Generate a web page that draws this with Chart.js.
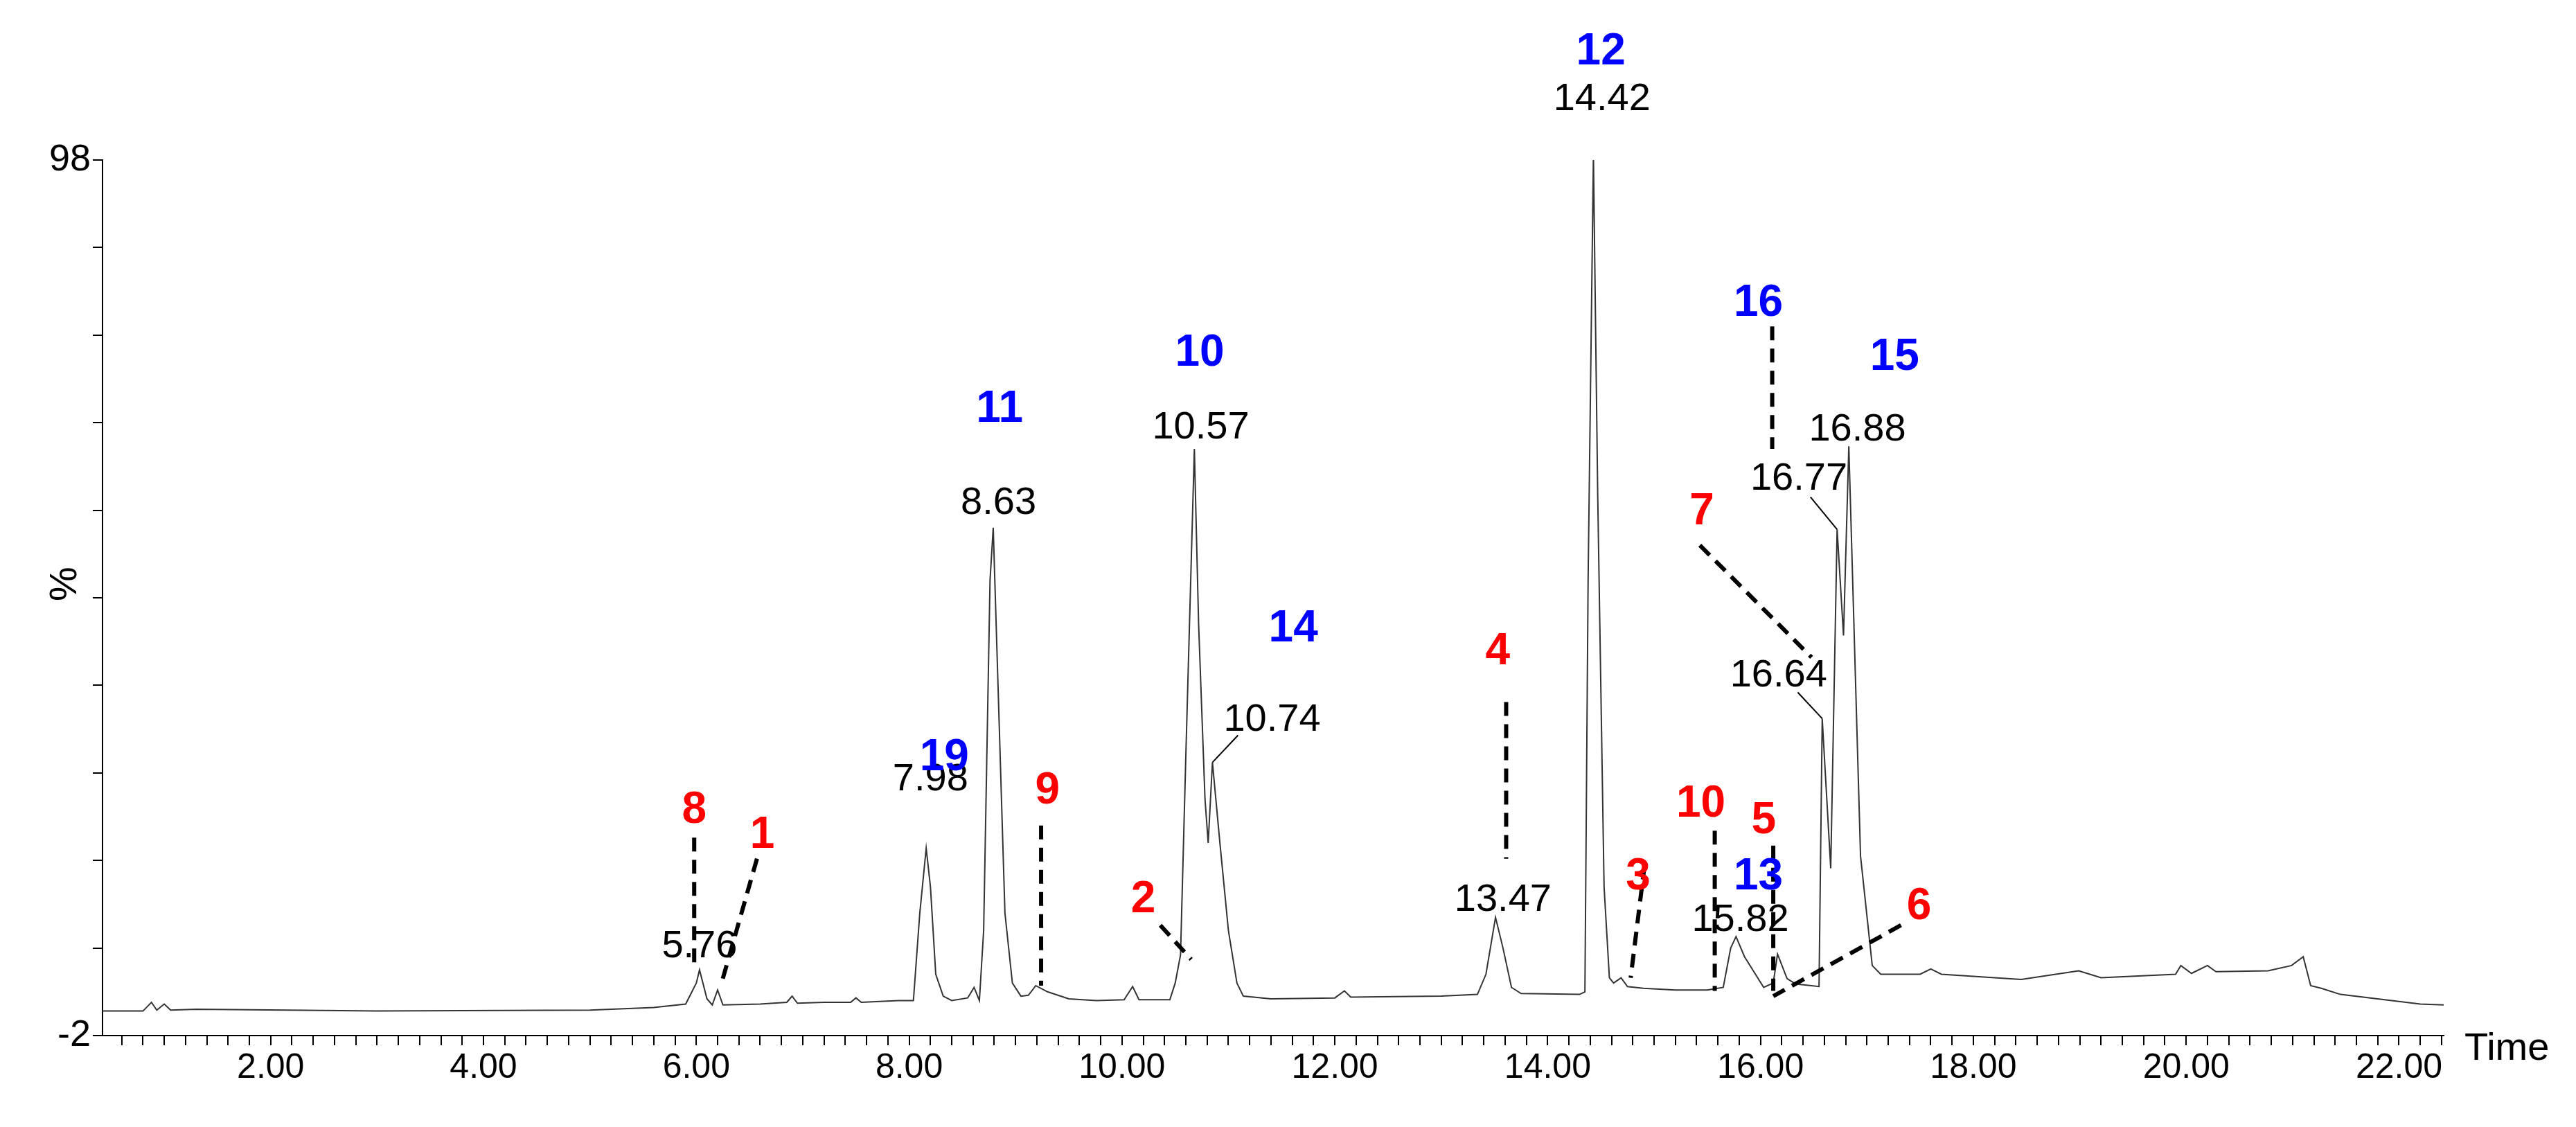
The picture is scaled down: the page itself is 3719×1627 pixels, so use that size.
<!DOCTYPE html>
<html><head><meta charset="utf-8">
<script src="https://cdn.jsdelivr.net/npm/chart.js@4/dist/chart.umd.min.js"></script>
<style>html,body{margin:0;padding:0;background:#fff}canvas{display:block}</style>
</head><body>
<canvas id="c" width="3719" height="1627" style="width:3719px;height:1627px"></canvas>
<script>
// chromatogram trace [time (min), relative intensity %]
const trace = [[0.42,0.8],[0.8,0.8],[0.88,1.8],[0.93,0.9],[1.0,1.6],[1.06,0.9],[1.3,1.0],[3,0.8],[5.0,0.9],[5.6,1.2],[5.9,1.6],[6.0,4],[6.03,5.5],[6.1,2.2],[6.15,1.5],[6.2,3.2],[6.25,1.5],[6.6,1.6],[6.85,1.8],[6.9,2.5],[6.95,1.7],[7.2,1.8],[7.45,1.8],[7.5,2.3],[7.55,1.8],[7.9,2.0],[8.04,2.0],[8.1,12],[8.16,19.4],[8.2,15],[8.25,5],[8.32,2.5],[8.4,2.0],[8.55,2.3],[8.61,3.5],[8.66,2.0],[8.7,10],[8.76,50],[8.79,56],[8.83,40],[8.9,12],[8.97,4],[9.05,2.5],[9.12,2.6],[9.19,3.7],[9.3,3.0],[9.5,2.2],[9.76,2.0],[10.02,2.1],[10.10,3.6],[10.16,2.1],[10.45,2.1],[10.5,4],[10.55,7.2],[10.6,30],[10.68,65],[10.72,45],[10.78,25],[10.81,20],[10.85,29.2],[10.92,20],[11.0,10],[11.08,4],[11.14,2.5],[11.4,2.2],[12.0,2.3],[12.09,3.1],[12.15,2.4],[13.0,2.5],[13.34,2.7],[13.42,5],[13.51,11.5],[13.58,8],[13.66,3.5],[13.75,2.8],[14.3,2.7],[14.35,3],[14.38,50],[14.43,98.5],[14.47,60],[14.53,15],[14.58,4.6],[14.62,4],[14.69,4.6],[14.75,3.6],[14.9,3.4],[15.2,3.2],[15.5,3.2],[15.65,3.5],[15.72,8],[15.77,9.3],[15.85,7],[16.03,3.5],[16.12,4],[16.16,7.3],[16.25,4.5],[16.33,3.9],[16.55,3.6],[16.58,34.2],[16.66,17.1],[16.72,55.8],[16.78,43.7],[16.83,65.3],[16.94,18.5],[17.05,6],[17.13,5.0],[17.5,5.0],[17.6,5.6],[17.7,5.0],[18.45,4.4],[18.99,5.4],[19.2,4.6],[19.9,5.0],[19.95,6.0],[20.05,5.1],[20.2,6.0],[20.28,5.3],[20.77,5.4],[20.99,6.0],[21.10,7.0],[21.17,3.7],[21.27,3.4],[21.45,2.7],[22.2,1.6],[22.42,1.5]];
// retention time labels [text, t, v]
const rtLabels = [["14.42",14.51,104.9],["8.63",8.84,58.8],["10.57",10.74,67.4],["10.74",11.41,34],["7.98",8.20,27.2],["13.47",13.58,13.5],["5.76",6.03,8.2],["15.82",15.81,11.2],["16.64",16.17,39.1],["16.77",16.36,61.6],["16.88",16.91,67.2]];
// compound numbers [text, t, v, color]
const numLabels = [["12",14.50,110.3,"blue"],["11",8.85,69.5,"blue"],["10",10.73,75.9,"blue"],["14",11.61,44.4,"blue"],["19",8.33,29.7,"blue"],["16",15.98,81.6,"blue"],["15",17.26,75.4,"blue"],["13",15.98,16.1,"blue"],["8",5.98,23.7,"red"],["1",6.62,20.8,"red"],["9",9.30,25.9,"red"],["2",10.20,13.5,"red"],["4",13.53,41.8,"red"],["3",14.85,16.1,"red"],["10",15.44,24.4,"red"],["5",16.03,22.5,"red"],["7",15.45,57.8,"red"],["6",17.49,12.7,"red"]];
// dashed leader lines [t1,v1,t2,v2]
const dashLines = [[5.98,20.6,5.98,5.9],[6.57,18.2,6.23,3.7],[9.24,22,9.24,3.7],[10.36,10.6,10.65,6.7],[13.61,36.1,13.61,18.2],[14.91,17.4,14.78,4.6],[15.57,21.4,15.57,3.1],[16.12,19.7,16.12,3.1],[17.32,10.6,16.12,2.5],[15.43,54,16.48,41.2],[16.11,79,16.11,65]];
// thin solid leaders
const thinLines = [[11.09,32.3,10.85,29.2],[16.35,37.2,16.58,34.2],[16.47,59.5,16.72,55.8]];
const xTickVals = []; for (let i=3;i<=112;i++) xTickVals.push(i/5);
const yTickVals = [-2,8,18,28,38,48,58,68,78,88,98];

const overlay = {
  id:'overlay',
  afterDraw(chart){
    const ctx=chart.ctx, xs=chart.scales.x, ys=chart.scales.y;
    const X=v=>xs.getPixelForValue(v), Y=v=>ys.getPixelForValue(v);
    ctx.save();
    ctx.strokeStyle='#000';
    ctx.lineWidth=6; ctx.setLineDash([20,12]);
    dashLines.forEach(l=>{ctx.beginPath();ctx.moveTo(X(l[0]),Y(l[1]));ctx.lineTo(X(l[2]),Y(l[3]));ctx.stroke();});
    ctx.setLineDash([]); ctx.lineWidth=2;
    thinLines.forEach(l=>{ctx.beginPath();ctx.moveTo(X(l[0]),Y(l[1]));ctx.lineTo(X(l[2]),Y(l[3]));ctx.stroke();});
    ctx.textAlign='center'; ctx.textBaseline='middle';
    ctx.fillStyle='#000'; ctx.font='56px "Liberation Sans", Arial';
    rtLabels.forEach(l=>ctx.fillText(l[0],X(l[1]),Y(l[2])));
    ctx.font='bold 64px "Liberation Sans", Arial';
    numLabels.forEach(l=>{ctx.fillStyle=l[3]==='blue'?'#0000ff':'#ff0000';ctx.fillText(l[0],X(l[1]),Y(l[2]));});
    ctx.fillStyle='#000'; ctx.font='56px "Liberation Sans", Arial';
    ctx.textAlign='left'; ctx.fillText('Time',xs.right+30,ys.bottom+20);
    ctx.save(); ctx.translate(95,(ys.top+ys.bottom)/2-20); ctx.rotate(-Math.PI/2);
    ctx.textAlign='center'; ctx.fillText('%',0,0); ctx.restore();
    ctx.restore();
  }
};

new Chart(document.getElementById('c'),{
  type:'line',
  data:{datasets:[{data:trace.map(p=>({x:p[0],y:p[1]})),borderColor:'#333',borderWidth:2,pointRadius:0,tension:0,fill:false}]},
  options:{
    responsive:false, animation:false, devicePixelRatio:1,
    layout:{padding:{top:231,right:191,left:0,bottom:0}},
    plugins:{legend:{display:false},tooltip:{enabled:false}},
    scales:{
      x:{type:'linear',min:0.42,max:22.42,
        afterBuildTicks(s){s.ticks=xTickVals.map(v=>({value:v}));},
        afterFit(s){s.height=132;},
        border:{color:'#000',width:2},
        grid:{drawOnChartArea:false,color:'#000',lineWidth:2,tickLength:14},
        ticks:{autoSkip:false,maxRotation:0,color:'#000',font:{size:50,family:'"Liberation Sans", Arial'},
          callback(v){const r=Math.round(v*5);return (r%10===0)?(r/5).toFixed(2):'';}}},
      y:{type:'linear',min:-2,max:98,
        afterBuildTicks(s){s.ticks=yTickVals.map(v=>({value:v}));},
        afterFit(s){s.width=148;},
        border:{color:'#000',width:2},
        grid:{drawOnChartArea:false,color:'#000',lineWidth:2,tickLength:14},
        ticks:{autoSkip:false,color:'#000',font:{size:54,family:'"Liberation Sans", Arial'},
          callback(v){return (v===98||v===-2)?String(v):'';}}}
    }
  },
  plugins:[overlay]
});
</script>
</body></html>
